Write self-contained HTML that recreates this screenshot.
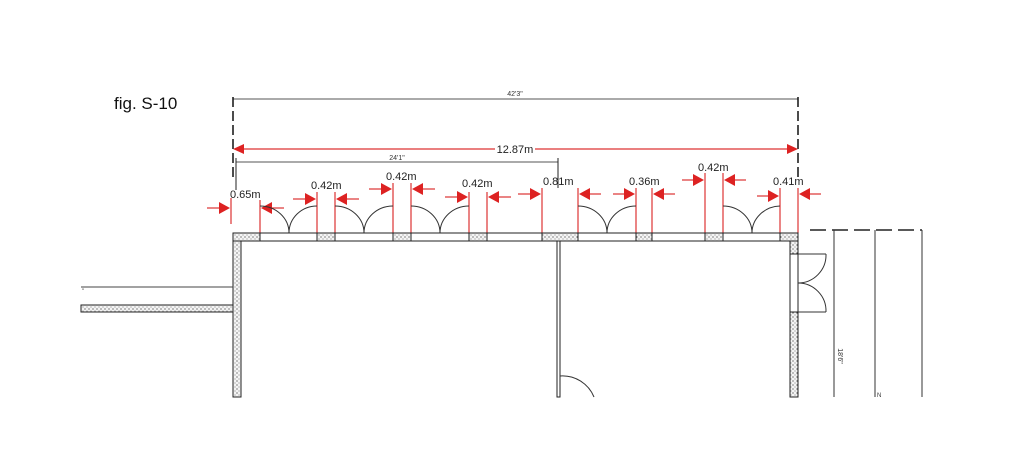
<!DOCTYPE html>
<html><head><meta charset="utf-8"><style>
html,body{margin:0;padding:0;background:#fff;}
svg{display:block;}
text{font-family:"Liberation Sans",sans-serif;}
</style></head><body>
<svg width="1024" height="458" viewBox="0 0 1024 458" xmlns="http://www.w3.org/2000/svg">
<defs>
<pattern id="dots" width="4" height="4" patternUnits="userSpaceOnUse">
<rect width="4" height="4" fill="#f4f4f4"/><circle cx="1" cy="1" r="0.6" fill="#333"/><circle cx="3" cy="3" r="0.5" fill="#555"/>
</pattern>
</defs>
<text x="114" y="109" font-size="17" fill="#111">fig. S-10</text>

<!-- 42'3" dim -->
<line x1="233" y1="99" x2="798" y2="99" stroke="#555" stroke-width="1"/>
<text x="515" y="96" font-size="7" text-anchor="middle" fill="#333">42'3"</text>
<line x1="233" y1="97" x2="233" y2="180" stroke="#111" stroke-width="1.5" stroke-dasharray="10,4"/>
<line x1="798" y1="97" x2="798" y2="180" stroke="#111" stroke-width="1.5" stroke-dasharray="10,4"/>

<!-- 12.87m -->
<line x1="240" y1="149" x2="495" y2="149" stroke="#d33" stroke-width="1.2"/>
<line x1="535" y1="149" x2="790" y2="149" stroke="#d33" stroke-width="1.2"/>
<polygon points="233,149 244,144 244,154" fill="#d22"/>
<polygon points="798,149 787,144 787,154" fill="#d22"/>
<text x="515" y="153" font-size="11" text-anchor="middle" fill="#222">12.87m</text>

<!-- 24'1" -->
<line x1="236" y1="162" x2="558" y2="162" stroke="#555" stroke-width="1"/>
<line x1="236" y1="158" x2="236" y2="190" stroke="#222" stroke-width="1"/>
<line x1="558" y1="158" x2="558" y2="188" stroke="#222" stroke-width="1"/>
<text x="397" y="160" font-size="7" text-anchor="middle" fill="#333">24'1"</text>

<!-- red verticals -->
<g stroke="#d33" stroke-width="1.2">
<line x1="231" y1="198" x2="231" y2="224"/>
<line x1="260" y1="200" x2="260" y2="233"/>
<line x1="317" y1="192" x2="317" y2="233"/>
<line x1="335" y1="192" x2="335" y2="233"/>
<line x1="393" y1="183" x2="393" y2="233"/>
<line x1="411" y1="183" x2="411" y2="233"/>
<line x1="469" y1="192" x2="469" y2="233"/>
<line x1="487" y1="192" x2="487" y2="233"/>
<line x1="542" y1="188" x2="542" y2="233"/>
<line x1="578" y1="188" x2="578" y2="233"/>
<line x1="636" y1="188" x2="636" y2="233"/>
<line x1="652" y1="188" x2="652" y2="233"/>
<line x1="705" y1="173" x2="705" y2="233"/>
<line x1="723" y1="173" x2="723" y2="233"/>
<line x1="780" y1="188" x2="780" y2="233"/>
<line x1="798" y1="188" x2="798" y2="233"/>
</g>
<!-- arrows right-pointing -->
<g fill="#d22" stroke="#d33" stroke-width="1.2">
<line x1="207" y1="208" x2="222" y2="208"/><polygon points="230,208 219,202 219,214" stroke="none"/>
<line x1="293" y1="199" x2="308" y2="199"/><polygon points="316,199 305,193 305,205" stroke="none"/>
<line x1="369" y1="189" x2="384" y2="189"/><polygon points="392,189 381,183 381,195" stroke="none"/>
<line x1="445" y1="197" x2="460" y2="197"/><polygon points="468,197 457,191 457,203" stroke="none"/>
<line x1="518" y1="194" x2="533" y2="194"/><polygon points="541,194 530,188 530,200" stroke="none"/>
<line x1="613" y1="194" x2="627" y2="194"/><polygon points="635,194 624,188 624,200" stroke="none"/>
<line x1="682" y1="180" x2="696" y2="180"/><polygon points="704,180 693,174 693,186" stroke="none"/>
<line x1="757" y1="196" x2="771" y2="196"/><polygon points="779,196 768,190 768,202" stroke="none"/>
</g>
<!-- arrows left-pointing -->
<g fill="#d22" stroke="#d33" stroke-width="1.2">
<line x1="269" y1="208" x2="284" y2="208"/><polygon points="261,208 272,202 272,214" stroke="none"/>
<line x1="344" y1="199" x2="359" y2="199"/><polygon points="336,199 347,193 347,205" stroke="none"/>
<line x1="420" y1="189" x2="435" y2="189"/><polygon points="412,189 423,183 423,195" stroke="none"/>
<line x1="496" y1="197" x2="511" y2="197"/><polygon points="488,197 499,191 499,203" stroke="none"/>
<line x1="587" y1="194" x2="601" y2="194"/><polygon points="579,194 590,188 590,200" stroke="none"/>
<line x1="661" y1="194" x2="675" y2="194"/><polygon points="653,194 664,188 664,200" stroke="none"/>
<line x1="732" y1="180" x2="746" y2="180"/><polygon points="724,180 735,174 735,186" stroke="none"/>
<line x1="807" y1="194" x2="821" y2="194"/><polygon points="799,194 810,188 810,200" stroke="none"/>
</g>
<!-- labels -->
<g font-size="11" fill="#222">
<text x="230" y="198">0.65m</text>
<text x="311" y="189">0.42m</text>
<text x="386" y="180">0.42m</text>
<text x="462" y="187">0.42m</text>
<text x="543" y="185">0.81m</text>
<text x="629" y="185">0.36m</text>
<text x="698" y="171">0.42m</text>
<text x="773" y="185">0.41m</text>
</g>

<!-- door arcs top -->
<g fill="none" stroke="#333" stroke-width="1">
<path d="M260,206 A29,27 0 0 1 289,233"/><path d="M317,206 A28,27 0 0 0 289,233"/>
<path d="M335,206 A29,27 0 0 1 364,233"/><path d="M393,206 A29,27 0 0 0 364,233"/>
<path d="M411,206 A29,27 0 0 1 440,233"/><path d="M469,206 A29,27 0 0 0 440,233"/>
<path d="M578,206 A29,27 0 0 1 607,233"/><path d="M636,206 A29,27 0 0 0 607,233"/>
<path d="M723,206 A29,27 0 0 1 752,233"/><path d="M780,206 A29,27 0 0 0 752,233"/>
</g>

<!-- walls -->
<g stroke="#222" stroke-width="1">
<!-- top wall pieces hatched -->
<rect x="233" y="233" width="27" height="8" fill="url(#dots)"/>
<rect x="317" y="233" width="18" height="8" fill="url(#dots)"/>
<rect x="393" y="233" width="18" height="8" fill="url(#dots)"/>
<rect x="469" y="233" width="18" height="8" fill="url(#dots)"/>
<rect x="542" y="233" width="36" height="8" fill="url(#dots)"/>
<rect x="636" y="233" width="16" height="8" fill="url(#dots)"/>
<rect x="705" y="233" width="18" height="8" fill="url(#dots)"/>
<rect x="780" y="233" width="18" height="8" fill="url(#dots)"/>
<!-- openings -->
<rect x="260" y="233" width="57" height="8" fill="#fff"/>
<rect x="335" y="233" width="58" height="8" fill="#fff"/>
<rect x="411" y="233" width="58" height="8" fill="#fff"/>
<rect x="487" y="233" width="55" height="8" fill="#fff"/>
<rect x="578" y="233" width="58" height="8" fill="#fff"/>
<rect x="652" y="233" width="53" height="8" fill="#fff"/>
<rect x="723" y="233" width="57" height="8" fill="#fff"/>
<!-- left wall -->
<rect x="233" y="241" width="8" height="156" fill="url(#dots)"/>
<!-- right wall -->
<rect x="790" y="241" width="8" height="13" fill="url(#dots)"/>
<rect x="790" y="254" width="8" height="58" fill="#fff"/>
<rect x="790" y="312" width="8" height="85" fill="url(#dots)"/>
<!-- middle wall -->
<rect x="557" y="241" width="3" height="156" fill="#fff"/>
<!-- corridor -->
<rect x="81" y="305" width="152" height="7" fill="url(#dots)"/>
</g>
<line x1="81" y1="287" x2="233" y2="287" stroke="#444" stroke-width="1"/>
<text x="82" y="293" font-size="6" fill="#444">"</text>
<!-- middle door arc -->
<path d="M560,376 A34,34 0 0 1 594,397" fill="none" stroke="#333" stroke-width="1"/>
<!-- right doors -->
<g fill="none" stroke="#333" stroke-width="1">
<line x1="798" y1="254" x2="826" y2="254"/>
<line x1="798" y1="312" x2="826" y2="312"/>
<path d="M826,254 A28,28 0 0 1 798,283"/>
<path d="M826,312 A28,28 0 0 0 798,283"/>
</g>
<!-- right dims -->
<line x1="810" y1="230" x2="922" y2="230" stroke="#222" stroke-width="1.5" stroke-dasharray="16,6"/>
<g stroke="#333" stroke-width="1">
<line x1="834" y1="230" x2="834" y2="397"/>
<line x1="875" y1="230" x2="875" y2="397"/>
<line x1="922" y1="230" x2="922" y2="397"/>
</g>
<text x="838" y="356" font-size="7" fill="#333" transform="rotate(90 838 356)" text-anchor="middle">18'6"</text>
<text x="877" y="397" font-size="6" fill="#333">N</text>
</svg>
</body></html>
